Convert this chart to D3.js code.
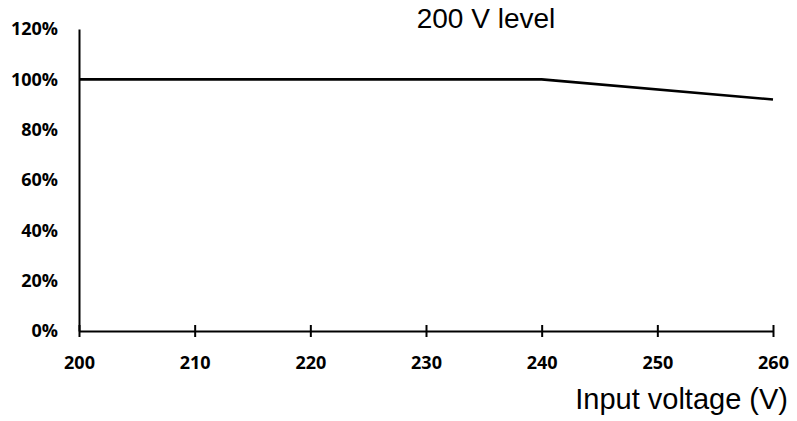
<!DOCTYPE html>
<html>
<head>
<meta charset="utf-8">
<script src="https://cdn.jsdelivr.net/npm/d3@7"></script>
<style>
  body { margin: 0; background: #ffffff; }
  svg { display: block; }
</style>
</head>
<body>
<svg id="chart"></svg>
<script>
// Data
const voltages = [200, 240, 260];
const ratios = [100, 100, 92];
const xTicks = [200, 210, 220, 230, 240, 250, 260];
const yTicks = [0, 20, 40, 60, 80, 100, 120];

const width = 797;
const height = 421;
const margin = { top: 29, right: 24, bottom: 90, left: 79 };

const svg = d3.select("#chart")
    .attr("width", width)
    .attr("height", height);

const x = d3.scaleLinear().domain([200, 260]).range([margin.left, width - margin.right]);
const y = d3.scaleLinear().domain([0, 120]).range([height - margin.bottom, margin.top]);

// X axis (ticks cross the line)
const xAxis = svg.append("g")
    .attr("transform", `translate(0, ${y(0)})`)
    .call(d3.axisBottom(x).tickValues(xTicks).tickSize(6).tickSizeOuter(0).tickPadding(19));
xAxis.select(".domain").attr("stroke", "#000").attr("stroke-width", 2);
xAxis.selectAll(".tick line")
    .attr("y1", -6).attr("y2", 6)
    .attr("stroke", "#000").attr("stroke-width", 2);
xAxis.selectAll(".tick text")
    .attr("fill", "#000")
    .style("font-family", "'Open Sans', sans-serif")
    .style("font-size", "18px")
    .style("font-weight", "700");

// Y axis, no tick marks
const yAxis = svg.append("g")
    .attr("transform", `translate(${x(200)}, 0)`)
    .call(d3.axisLeft(y).tickValues(yTicks).tickSize(0).tickPadding(21).tickFormat(d => d + "%"));
yAxis.select(".domain").attr("stroke", "#000").attr("stroke-width", 2);
yAxis.selectAll(".tick text")
    .attr("fill", "#000")
    .style("font-family", "'Open Sans', sans-serif")
    .style("font-size", "18px")
    .style("font-weight", "700");

// Data line
const pts = voltages.map((v, i) => [v, ratios[i]]);
svg.append("path")
    .datum(pts)
    .attr("fill", "none")
    .attr("stroke", "#000")
    .attr("stroke-width", 2.6)
    .attr("d", d3.line().x(d => x(d[0])).y(d => y(d[1])));

// Title
svg.append("text")
    .attr("x", 486)
    .attr("y", 28)
    .attr("text-anchor", "middle")
    .style("font-family", "'Liberation Sans', Arial, sans-serif")
    .style("font-size", "28px")
    .attr("fill", "#000")
    .text("200 V level");

// X axis title
svg.append("text")
    .attr("x", 788)
    .attr("y", 409)
    .attr("text-anchor", "end")
    .style("font-family", "'Liberation Sans', Arial, sans-serif")
    .style("font-size", "29px")
    .attr("fill", "#000")
    .text("Input voltage (V)");
</script>
</body>
</html>
